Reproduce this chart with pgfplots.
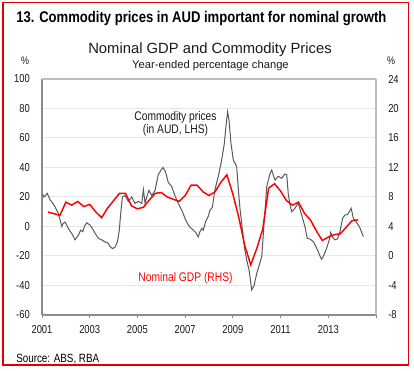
\documentclass[border=0pt]{standalone}
\usepackage{fontspec}
\setmainfont{Liberation Sans}
\newfontfamily\narrow{Liberation Sans}[FakeStretch=0.82]
\newfontfamily\titlefont{Liberation Sans}[FakeStretch=0.845]
\usepackage{pgfplots}
\pgfplotsset{compat=1.18}
\definecolor{axgray}{HTML}{8C8C8C}
\definecolor{axlight}{HTML}{BDBDBD}
\definecolor{gridgray}{HTML}{E6E6E6}
\definecolor{comgray}{HTML}{595959}
\definecolor{gdpred}{HTML}{FF0000}
\definecolor{labelcol}{HTML}{1A1A1A}
\definecolor{frame}{HTML}{E00000}

\pgfplotstableread{
x y
2001.03 22
2001.08 20
2001.15 21
2001.22 22.5
2001.34 18
2001.42 16.5
2001.54 13.5
2001.68 9
2001.75 5
2001.83 0
2001.88 2
2001.96 3
2002.04 1
2002.09 -1
2002.17 -3
2002.26 -5
2002.38 -9
2002.52 -6
2002.62 -2.5
2002.71 -3.5
2002.78 0
2002.87 2.5
2003.01 1
2003.12 -1.5
2003.22 -4.5
2003.36 -8
2003.50 -9
2003.64 -10.5
2003.75 -11
2003.85 -13.5
2003.96 -15
2004.06 -14
2004.16 -10.5
2004.24 -2.5
2004.30 9
2004.37 20
2004.48 21
2004.62 17
2004.76 20
2004.90 15.7
2005.04 17
2005.18 15.7
2005.25 25
2005.32 15.7
2005.39 20
2005.48 24.5
2005.60 21
2005.74 24.5
2005.87 35
2005.99 38.3
2006.07 40
2006.18 37
2006.29 30
2006.44 27
2006.57 21
2006.71 15.7
2006.86 11
2007.02 4.5
2007.13 1
2007.24 -1
2007.34 -2.4
2007.44 -4
2007.55 -7
2007.62 -3.5
2007.70 -1.2
2007.76 -2.5
2007.86 3.4
2007.97 7
2008.04 11
2008.14 13
2008.25 25
2008.39 34
2008.53 45
2008.64 56
2008.71 67.7
2008.78 77.8
2008.84 72
2008.92 56.4
2009.02 45
2009.09 43
2009.16 40.6
2009.23 25
2009.30 12
2009.37 2
2009.48 -13.7
2009.58 -22.7
2009.68 -29.5
2009.79 -43
2009.89 -40
2010.00 -31.8
2010.09 -27
2010.21 -20.5
2010.30 0
2010.42 27
2010.56 36
2010.63 38.3
2010.69 35
2010.77 31.5
2010.90 34
2011.05 32.7
2011.18 35.6
2011.26 35
2011.32 22.5
2011.39 15
2011.47 10
2011.60 12.3
2011.74 16
2011.88 7.8
2012.02 0
2012.12 -8
2012.23 -8.5
2012.37 -10.2
2012.48 -13.6
2012.58 -17
2012.65 -20
2012.72 -22.2
2012.82 -19.3
2012.93 -14.8
2013.04 -9
2013.10 -4
2013.18 -7.3
2013.28 -9
2013.38 -8.5
2013.49 -3.5
2013.60 5.6
2013.70 7.8
2013.80 8
2013.88 10
2013.96 12.3
2014.05 5.6
2014.16 3.4
2014.30 0
2014.47 -6.8
}\commodity

\pgfplotstableread{
x y
2001.25 5.96
2001.50 5.74
2001.75 5.5
2002.00 7.3
2002.25 6.9
2002.50 7.4
2002.75 6.7
2003.00 7.0
2003.25 6.0
2003.50 5.2
2003.75 6.5
2004.00 7.5
2004.25 8.5
2004.50 8.5
2004.75 6.8
2005.00 6.4
2005.25 6.6
2005.50 7.6
2005.75 8.5
2006.00 8.6
2006.25 8.0
2006.50 7.7
2006.75 7.4
2007.00 8.2
2007.25 9.6
2007.50 9.6
2007.75 8.7
2008.00 8.2
2008.25 8.7
2008.50 10.0
2008.75 11.0
2009.00 8.4
2009.25 5.2
2009.50 1.4
2009.75 -1.2
2010.00 1.0
2010.25 3.6
2010.50 9.2
2010.75 9.8
2011.00 8.8
2011.25 7.5
2011.50 6.9
2011.75 7.3
2012.00 5.8
2012.25 4.9
2012.50 3.4
2012.75 2.1
2013.00 2.56
2013.25 2.9
2013.50 3.0
2013.75 3.9
2014.00 4.8
2014.25 4.9
}\gdp

\begin{document}
\begin{tikzpicture}[x=0.75pt,y=0.75pt]
\path[use as bounding box] (0,0) rectangle (414,371);
\draw[frame, line width=1.1pt] (3,6) rectangle (408.5,368.5);

\node[anchor=base west, inner sep=0pt, text=black] at (16,348.5)
  {\titlefont\bfseries\fontsize{11.6pt}{13pt}\selectfont 13. Commodity prices in AUD important for nominal growth};
\node[anchor=base, inner sep=0pt, text=labelcol] at (210,317.7)
  {\fontsize{11.1pt}{13pt}\selectfont Nominal GDP and Commodity Prices};
\node[anchor=base, inner sep=0pt, text=labelcol] at (210.5,302)
  {\fontsize{8.4pt}{10pt}\selectfont Year-ended percentage change};
\node[anchor=base, inner sep=0pt, text=labelcol] at (25,306)
  {\narrow\fontsize{8.2pt}{10pt}\selectfont \%};
\node[anchor=base, inner sep=0pt, text=labelcol] at (391,306)
  {\narrow\fontsize{8.2pt}{10pt}\selectfont \%};
\node[anchor=base west, inner sep=0pt, text=black] at (16,8)
  {\narrow\fontsize{9pt}{11pt}\selectfont Source: ABS, RBA};

\begin{axis}[
  at={(31.5pt,42pt)}, anchor=south west, scale only axis,
  width=250.5pt, height=177pt,
  xmin=2001, xmax=2015, ymin=-60, ymax=100,
  axis x line*=bottom, axis y line*=left,
  axis line style={draw=axgray, line width=0.9pt},
  xtick={2001,2003,2005,2007,2009,2011,2013,2015},
  xticklabels={2001,2003,2005,2007,2009,2011,2013,{}},
  ytick={-60,-40,-20,0,20,40,60,80,100},
  yticklabels={-60,-40,-20,0,20,40,60,80,100},
  ymajorgrids, grid style={draw=gridgray, line width=0.75pt},
  tick align=outside, major tick length=2.5pt,
  x tick style={draw=axgray, line width=0.75pt},
  y tick style={draw=none},
  ticklabel style={font=\narrow\fontsize{8.6pt}{10pt}\selectfont, text=labelcol},
  xticklabel style={inner sep=0pt, yshift=-5pt},
  yticklabel style={inner sep=0pt, xshift=-6.5pt},
]
\addplot[comgray, line width=0.75pt] table[x=x,y=y] {\commodity};
\end{axis}

\begin{axis}[
  at={(31.5pt,42pt)}, anchor=south west, scale only axis,
  width=250.5pt, height=177pt,
  xmin=2001, xmax=2015, ymin=-8, ymax=24,
  axis x line=none, axis y line*=right,
  axis line style={draw=axlight, line width=0.9pt},
  ytick={-8,-4,0,4,8,12,16,20,24},
  yticklabels={-8,-4,0,4,8,12,16,20,24},
  y tick style={draw=none},
  tick align=outside, major tick length=2.5pt,
  ticklabel style={font=\narrow\fontsize{8.6pt}{10pt}\selectfont, text=labelcol},
  yticklabel style={anchor=west, inner sep=0pt, xshift=6.5pt},
]
\draw[axlight, line width=0.9pt] (rel axis cs:0,1) -- (rel axis cs:1,1);
\addplot[gdpred, line width=1.1pt] table[x=x,y=y] {\gdp};
\end{axis}

\node[anchor=base, inner sep=0pt, text=labelcol] at (175.5,250.3)
  {\narrow\fontsize{9.4pt}{11pt}\selectfont Commodity prices};
\node[anchor=base, inner sep=0pt, text=labelcol] at (175.5,237)
  {\narrow\fontsize{9.4pt}{11pt}\selectfont (in AUD, LHS)};
\node[anchor=base, inner sep=0pt, text=gdpred] at (185.5,89)
  {\narrow\fontsize{9.4pt}{11pt}\selectfont Nominal GDP (RHS)};
\end{tikzpicture}
\end{document}
